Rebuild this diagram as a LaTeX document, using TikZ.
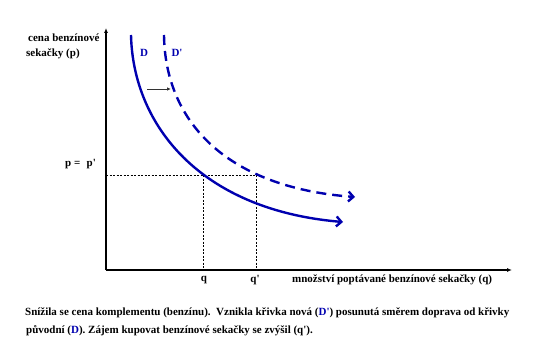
\documentclass[tikz,border=0pt]{standalone}
\usepackage{fontspec}
\setmainfont{Liberation Serif}
\usetikzlibrary{arrows.meta}
\definecolor{dblue}{RGB}{0,0,175}
\newcommand\sq{\textquotesingle}
\tikzset{
  lbl/.style={font=\bfseries\fontsize{11}{13}\selectfont, inner sep=0pt},
  axis/.style={line width=1.6pt, -{Latex[length=5pt,width=4pt]}},
  guide/.style={line width=0.4pt, dash pattern=on 2pt off 1.5pt},
  dcurve/.style={dblue, line width=2.4pt, -{Straight Barb[length=5pt,width=10pt,line width=2.4pt]}},
}
\begin{document}
\begin{tikzpicture}[x=1pt,y=-1pt]
\useasboundingbox (0,0) rectangle (540,358);
\coordinate (O) at (106,270);
\coordinate (ytop) at (106,28);
\coordinate (xend) at (512,270);
\draw[axis] (O) -- (ytop);
\draw[axis] (O) -- (xend);
% points
\coordinate (E) at (106,175);
\coordinate (P1) at (203,175);
\coordinate (P2) at (256,175);
\coordinate (Q1) at (203,270);
\coordinate (Q2) at (256,270);
\draw[guide] (E) -- (P2);
\draw[guide] (P1) -- (Q1);
\draw[guide] (P2) -- (Q2);
% curves
\coordinate (Ds) at (131,35);
\coordinate (De) at (343,222);
\coordinate (Dps) at (164,35);
\coordinate (Dpe) at (355,197);
\draw[dcurve] (Ds) .. controls (133,125) and (200,210) .. (De);
\draw[dcurve, dash pattern=on 10pt off 6pt] (Dps) .. controls (165,118) and (222,187) .. (Dpe);
% shift arrow
\coordinate (A1) at (147,89);
\coordinate (A2) at (171,89);
\draw[line width=0.8pt, black!80, -{Latex[length=4pt,width=3.5pt]}] (A1) -- (A2);
% labels
\node[lbl, anchor=west] (ylab1) at (28,38) {cena benzínové};
\node[lbl, anchor=west] (ylab2) at (26,54) {sekačky (p)};
\node[lbl, text=dblue] (lD) at (144,53) {D};
\node[lbl, text=dblue] (lDp) at (177,53) {D\sq};
\node[lbl, anchor=west] (lp) at (65,164) {p =\,\, p\sq};
\node[lbl] (lq) at (204,280) {q};
\node[lbl] (lqp) at (255,280) {q\sq};
\node[lbl, anchor=west] (xlab) at (292,280) {množství poptávané benzínové sekačky (q)};
\node[lbl, anchor=west] (c1) at (25,313) {Snížila se cena komplementu (benzínu).\ \ Vznikla křivka nová (\textcolor{dblue}{D\sq}) posunutá směrem doprava od křivky};
\node[lbl, anchor=west] (c2) at (26,331) {původní (\textcolor{dblue}{D}). Zájem kupovat benzínové sekačky se zvýšil (q\sq).};
\end{tikzpicture}
\end{document}
